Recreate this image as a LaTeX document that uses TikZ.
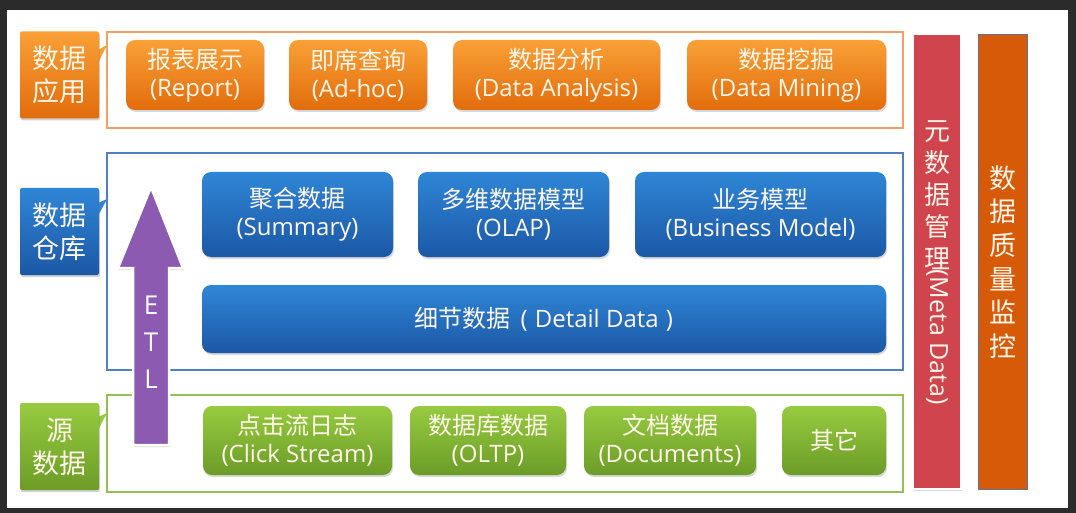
\documentclass[tikz,border=0pt]{standalone}
\usepackage{fontspec}
\setmainfont{Open Sans}
\newfontfamily\cjk{Noto Sans CJK SC}
\usetikzlibrary{shadows}
\definecolor{darkbg}{HTML}{2B2B2B}
\definecolor{orT}{HTML}{F9A036}
\definecolor{orB}{HTML}{E26C0C}
\definecolor{orL}{HTML}{F2A066}
\definecolor{blT}{HTML}{2F86D6}
\definecolor{blB}{HTML}{1B58A6}
\definecolor{blL}{HTML}{4F7FBE}
\definecolor{grT}{HTML}{97CB40}
\definecolor{grB}{HTML}{6C9C28}
\definecolor{grL}{HTML}{93BF55}
\definecolor{metaR}{HTML}{CF444D}
\definecolor{qualO}{HTML}{D75A08}
\definecolor{qualL}{HTML}{5F7390}
\definecolor{etlP}{HTML}{8C5AB0}
\definecolor{txtW}{HTML}{FFF6EA}
\tikzset{
  box/.style={rounded corners=9pt, text=txtW, align=center, inner sep=0pt,
    font=\fontsize{24}{28}\selectfont,
    drop shadow={opacity=0.3, shadow xshift=1pt, shadow yshift=-2pt}},
  obox/.style={box, top color=orT, bottom color=orB},
  bbox/.style={box, top color=blT, bottom color=blB},
  gbox/.style={box, top color=grT, bottom color=grB},
  tag/.style={rounded corners=2pt, text=txtW, align=center, inner sep=0pt,
    minimum width=79pt, minimum height=87pt,
    font=\cjk\fontsize{27}{33}\selectfont,
    drop shadow={opacity=0.35, shadow xshift=1pt, shadow yshift=-2pt}},
  layer/.style={line width=2pt},
}
\begin{document}
\begin{tikzpicture}[x=1pt,y=-1pt]
\useasboundingbox (0,0) rectangle (1076,513);
\fill[darkbg] (0,0) rectangle (1076,513);
\fill[white] (7,10) rectangle (1068,508);

% layer frames
\draw[layer, orL] (107,32) rectangle (903,128);
\draw[layer, blL] (107,153) rectangle (903,370);
\draw[layer, grL] (107,395) rectangle (903,492);

% side tags
\fill[orT] (98,50) -- (107,45) -- (98,63) -- cycle;
\node[tag, top color=orT, bottom color=orB] (tagApp) at (59.5,75) {数据\\应用};
\fill[blT] (98,203) -- (107,199) -- (98,216) -- cycle;
\node[tag, top color=blT, bottom color=blB] (tagDW) at (59.5,231.5) {数据\\仓库};
\fill[grT] (98,417) -- (107,413) -- (98,430) -- cycle;
\node[tag, top color=grT, bottom color=grB] (tagSrc) at (59.5,446.5) {源\\数据};

% application row
\node[obox, minimum width=138pt, minimum height=70pt] (rep) at (195,75) {{\cjk 报表展示}\\(Report)};
\node[obox, minimum width=138pt, minimum height=70pt] (adh) at (358,75) {{\cjk 即席查询}\\(Ad-hoc)};
\node[obox, minimum width=207pt, minimum height=70pt] (ana) at (556.5,75) {{\cjk 数据分析}\\(Data Analysis)};
\node[obox, minimum width=199pt, minimum height=70pt] (min) at (786.5,75) {{\cjk 数据挖掘}\\(Data Mining)};

% warehouse
\node[bbox, minimum width=191pt, minimum height=85pt] (sum) at (297.5,214.5) {{\cjk 聚合数据}\\(Summary)};
\node[bbox, minimum width=191pt, minimum height=85pt] (olap) at (513.5,214.5) {{\cjk 多维数据模型}\\(OLAP)};
\node[bbox, minimum width=251pt, minimum height=85pt] (bus) at (760.5,214.5) {{\cjk 业务模型}\\(Business Model)};
\node[bbox, minimum width=684pt, minimum height=68pt] (det) at (544,319) {{\cjk 细节数据}\hspace{0.4em}(\hspace{0.3em}Detail Data\hspace{0.3em})};

% sources
\node[gbox, minimum width=189pt, minimum height=69pt] (clk) at (297.5,440.5) {{\cjk 点击流日志}\\(Click Stream)};
\node[gbox, minimum width=156pt, minimum height=69pt] (oltp) at (488,440.5) {{\cjk 数据库数据}\\(OLTP)};
\node[gbox, minimum width=172pt, minimum height=69pt] (doc) at (670,440.5) {{\cjk 文档数据}\\(Documents)};
\node[gbox, minimum width=104pt, minimum height=69pt] (oth) at (834,440.5) {{\cjk 其它}};

% ETL arrow
\filldraw[fill=etlP, draw=white, line width=2.5pt, line join=miter,
  drop shadow={opacity=0.3, shadow xshift=1pt, shadow yshift=-2pt}]
  (151,187) -- (183,268) -- (169,268) -- (169,445) -- (133,445) -- (133,268) -- (118,268) -- cycle;
\node[text=white, align=center, inner sep=0pt, font=\fontsize{26}{37}\selectfont] (etl) at (151,342) {E\\T\\L};

% meta data bar
\fill[metaR, draw=white, line width=2pt,
  drop shadow={opacity=0.3, shadow xshift=1pt, shadow yshift=-2pt}] (913,34) rectangle (961,489);
\node[text=txtW, align=center, inner sep=0pt, font=\cjk\fontsize{26}{32}\selectfont] (metaCJK) at (937,195) {元\\数\\据\\管\\理};
\node[text=txtW, inner sep=0pt, rotate=-90, anchor=west, font=\fontsize{25}{32}\selectfont] (metaLat) at (937,269) {(Meta Data)};

% quality bar
\fill[qualO, draw=qualL, line width=1pt] (978,35) rectangle (1027,489);
\node[text=txtW, align=center, inner sep=0pt, font=\cjk\fontsize{27}{33.6}\selectfont] (qual) at (1002.5,262) {数\\据\\质\\量\\监\\控};
\end{tikzpicture}
\end{document}
